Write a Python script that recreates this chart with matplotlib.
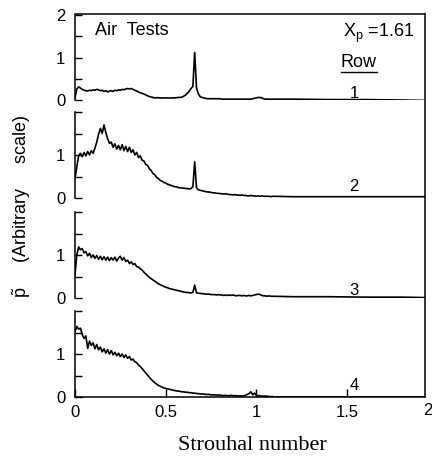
#!/usr/bin/env python3
"""
Pressure spectra behind tube rows 1-4 (air tests, Xp = 1.61),
stacked panels sharing one Strouhal-number axis.
"""
import matplotlib
matplotlib.use("Agg")
import matplotlib.pyplot as plt
import matplotlib.transforms as mtransforms
from matplotlib.lines import Line2D

# frequency bins: 0.00 .. 1.10 in steps of 0.01, then a sparse flat tail
STROUHAL = [round(0.01 * i, 2) for i in range(111)] + [1.2, 1.4, 1.6, 1.8, 1.93]

ROW1 = [0.05, 0.26, 0.31, 0.28, 0.25, 0.23, 0.22, 0.21, 0.23, 0.22,
        0.24, 0.23, 0.25, 0.24, 0.22, 0.23, 0.20, 0.22, 0.19, 0.21,
        0.22, 0.20, 0.23, 0.22, 0.24, 0.23, 0.25, 0.24, 0.26, 0.27,
        0.26, 0.27, 0.25, 0.23, 0.21, 0.19, 0.17, 0.155, 0.14, 0.12,
        0.10, 0.08, 0.07, 0.06, 0.05, 0.055, 0.05, 0.05, 0.045, 0.05,
        0.05, 0.05, 0.045, 0.05, 0.05, 0.05, 0.055, 0.06, 0.06, 0.07,
        0.09, 0.12, 0.16, 0.21, 0.27, 0.32, 1.12, 0.28, 0.15, 0.08,
        0.06, 0.05, 0.04, 0.03, 0.03, 0.03, 0.03, 0.03, 0.03, 0.03,
        0.03, 0.02, 0.02, 0.02, 0.02, 0.02, 0.02, 0.02, 0.02, 0.02,
        0.02, 0.02, 0.02, 0.02, 0.02, 0.02, 0.02, 0.02, 0.03, 0.04,
        0.05, 0.06, 0.06, 0.05, 0.03, 0.02, 0.02, 0.02, 0.02, 0.02, 0.02,
        0.02, 0.01, 0.01, 0.0, -0.01]

ROW2 = [0.45, 0.73, 0.98, 1.04, 0.96, 1.06, 0.98, 1.08, 1.00, 1.10,
        1.04, 1.16, 1.30, 1.48, 1.62, 1.50, 1.70, 1.52, 1.38, 1.27,
        1.30, 1.18, 1.26, 1.14, 1.22, 1.12, 1.24, 1.10, 1.20, 1.08,
        1.18, 1.06, 1.12, 1.00, 1.06, 0.94, 0.98, 0.88, 0.86, 0.78,
        0.76, 0.68, 0.64, 0.57, 0.54, 0.48, 0.45, 0.41, 0.39, 0.36,
        0.35, 0.32, 0.31, 0.29, 0.28, 0.26, 0.26, 0.24, 0.24, 0.23,
        0.23, 0.22, 0.22, 0.21, 0.22, 0.26, 0.84, 0.24, 0.19, 0.18,
        0.17, 0.16, 0.15, 0.14, 0.14, 0.13, 0.12, 0.12, 0.11, 0.11,
        0.10, 0.10, 0.09, 0.10, 0.09, 0.08, 0.08, 0.07, 0.08, 0.07,
        0.07, 0.06, 0.07, 0.06, 0.06, 0.05, 0.05, 0.06, 0.05, 0.05,
        0.04, 0.05, 0.04, 0.05, 0.04, 0.04, 0.04, 0.04, 0.03, 0.04, 0.04,
        0.03, 0.03, 0.03, 0.03, 0.03]

ROW3 = [0.55, 1.00, 1.19, 1.12, 1.15, 1.05, 1.08, 0.98, 1.04, 0.94,
        1.00, 0.92, 0.99, 0.90, 0.97, 0.89, 0.96, 0.88, 0.95, 0.87,
        0.94, 0.88, 0.95, 0.86, 0.93, 0.97, 0.88, 0.94, 0.85, 0.88,
        0.80, 0.84, 0.78, 0.80, 0.73, 0.72, 0.68, 0.65, 0.60, 0.56,
        0.52, 0.48, 0.45, 0.42, 0.39, 0.36, 0.33, 0.31, 0.29, 0.27,
        0.25, 0.24, 0.22, 0.21, 0.20, 0.19, 0.18, 0.17, 0.16, 0.15,
        0.14, 0.13, 0.13, 0.12, 0.12, 0.13, 0.30, 0.12, 0.11, 0.11,
        0.10, 0.10, 0.09, 0.09, 0.09, 0.08, 0.08, 0.08, 0.07, 0.08,
        0.07, 0.07, 0.06, 0.07, 0.06, 0.07, 0.06, 0.07, 0.06, 0.05,
        0.06, 0.06, 0.05, 0.06, 0.05, 0.05, 0.06, 0.05, 0.06, 0.07,
        0.08, 0.09, 0.08, 0.06, 0.05, 0.05, 0.04, 0.05, 0.04, 0.04, 0.04,
        0.03, 0.03, 0.02, 0.02, 0.01]

ROW4 = [1.52, 1.64, 1.58, 1.60, 1.45, 1.36, 1.42, 1.13, 1.30, 1.20,
        1.26, 1.12, 1.22, 1.10, 1.16, 1.05, 1.12, 1.02, 1.10, 1.00,
        1.08, 0.98, 1.04, 0.96, 1.02, 0.94, 1.00, 0.92, 0.98, 0.90,
        0.94, 0.86, 0.88, 0.82, 0.80, 0.74, 0.71, 0.66, 0.61, 0.56,
        0.51, 0.46, 0.41, 0.37, 0.33, 0.30, 0.27, 0.25, 0.23, 0.21,
        0.20, 0.19, 0.18, 0.17, 0.16, 0.15, 0.14, 0.14, 0.13, 0.12,
        0.12, 0.11, 0.11, 0.10, 0.10, 0.09, 0.09, 0.08, 0.08, 0.07,
        0.07, 0.07, 0.06, 0.06, 0.06, 0.05, 0.05, 0.05, 0.04, 0.05,
        0.04, 0.04, 0.03, 0.04, 0.03, 0.03, 0.04, 0.03, 0.03, 0.03,
        0.02, 0.03, 0.02, 0.03, 0.04, 0.06, 0.08, 0.12, 0.05, 0.09,
        0.04, 0.03, 0.03, 0.02, 0.02, 0.02, 0.02, 0.01, 0.01, 0.01, 0.00,
        0.0, 0.0, 0.0, 0.0, 0.0]

ROWS = [ROW1, ROW2, ROW3, ROW4]
ROW_LABELS = ["1", "2", "3", "4"]
ROW_LABEL_Y = [0.05, 0.16, 0.07, 0.16]

X_TICKS = [0, 0.5, 1, 1.5]
X_TICKLABELS = ["0", "0.5", "1", "1.5"]
Y_TICKS = [0, 0.5, 1, 1.5, 2]

SANS = "Liberation Sans"
plt.rcParams["font.family"] = SANS
plt.rcParams["mathtext.fontset"] = "custom"
plt.rcParams["mathtext.rm"] = SANS
plt.rcParams["mathtext.it"] = SANS + ":italic"

W, H = 432, 459
fig = plt.figure(figsize=(W / 100, H / 100), dpi=100)

# panel boxes in pixels: (top, bottom)
LEFT, RIGHT = 75, 425
PANELS = [(15, 100), (112, 198), (212, 298), (311, 397)]
XMAX = 1.93


def frac(top, bottom):
    return [LEFT / W, 1 - bottom / H, (RIGHT - LEFT) / W, (bottom - top) / H]


axes = []
for i, (top, bottom) in enumerate(PANELS):
    ax = fig.add_axes(frac(top, bottom))
    ax.plot(STROUHAL, ROWS[i], color="black", linewidth=1.2)
    ax.set_xlim(0, XMAX)
    ax.set_ylim(0, 2)
    for s in ("top", "right"):
        ax.spines[s].set_visible(False)
    ax.spines["left"].set_linewidth(1.1)
    ax.set_yticks(Y_TICKS)
    if i == 0:
        ax.set_yticklabels(["0", "", "1", "", "2"])
    else:
        ax.set_yticklabels(["0", "", "1", "", ""])
    ax.tick_params(axis="y", direction="in", length=5, width=1.0, pad=7,
                   labelsize=12)
    if i < 3:
        ax.spines["bottom"].set_visible(False)
        ax.set_xticks([])
    else:
        ax.spines["bottom"].set_linewidth(1.1)
        ax.set_xticks(X_TICKS)
        ax.set_xticklabels(X_TICKLABELS)
        ax.tick_params(axis="x", direction="in", length=6, width=1.0, pad=6,
                       labelsize=12)
        # the "2" label sits at the right edge of the frame
        trans = mtransforms.blended_transform_factory(ax.transData, ax.transAxes)
        ax.text(1.945, -0.075, "2", transform=trans, ha="center", va="top",
                fontsize=12, clip_on=False)
    ax.text(1.54, ROW_LABEL_Y[i], ROW_LABELS[i], ha="center", va="baseline",
            fontsize=12)
    ax.patch.set_alpha(0)
    axes.append(ax)

# outer frame: only top and right edges
frame = fig.add_axes([LEFT / W, 1 - PANELS[3][1] / H, (RIGHT - LEFT) / W,
                      (PANELS[3][1] - 14) / H])
frame.patch.set_alpha(0)
frame.set_xticks([])
frame.set_yticks([])
for s in ("left", "bottom"):
    frame.spines[s].set_visible(False)
for s in ("top", "right"):
    frame.spines[s].set_linewidth(1.1)

ax1 = axes[0]
ax1.text(0.11, 1.63, "Air  Tests", ha="left", va="center", fontsize=13)
ax1.text(1.48, 1.56, r"X$_\mathrm{p}$ =1.61", ha="left", va="center", fontsize=13)
row_head = ax1.text(1.565, 0.88, "Row", ha="center", va="center", fontsize=13)

# underline "Row" using its rendered extent
fig.canvas.draw()
bb = row_head.get_window_extent().transformed(fig.transFigure.inverted())
fig.add_artist(Line2D([bb.x0, bb.x1], [bb.y0 - 0.002, bb.y0 - 0.002],
                      transform=fig.transFigure, color="black", linewidth=1.0))

fig.text(22 / W, 1 - 207 / H, r"$\tilde{\mathrm{p}}$     (Arbitrary     scale)",
         rotation=90, ha="center", va="center", fontsize=13)
fig.text(252 / W, 1 - 445 / H, "Strouhal number", family="Liberation Serif",
         ha="center", va="center", fontsize=16)

fig.savefig("out.png", dpi=100)
